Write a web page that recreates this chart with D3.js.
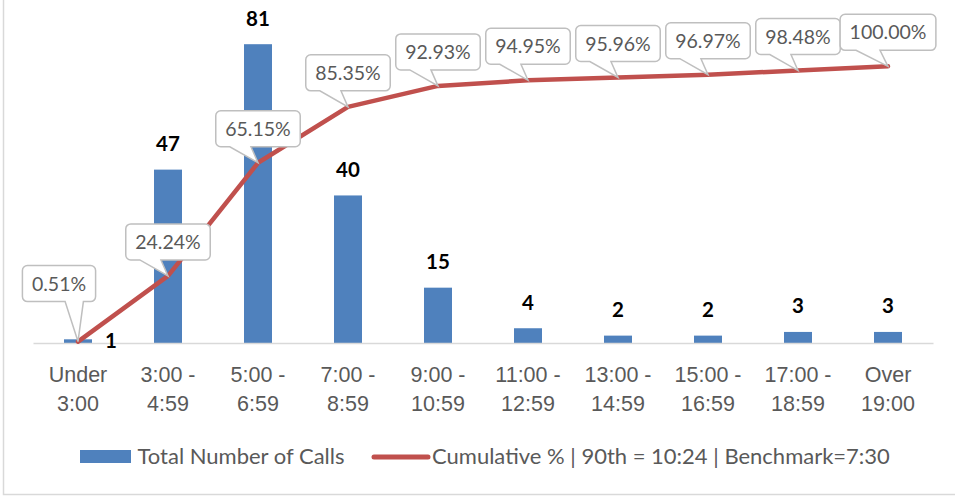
<!DOCTYPE html>
<html>
<head>
<meta charset="utf-8">
<script src="https://cdn.jsdelivr.net/npm/d3@7"></script>
<style>
  html, body { margin: 0; padding: 0; background: #fff; }
  svg { display: block; font-family: Lato, "Open Sans", sans-serif; }
</style>
</head>
<body>
<svg id="chart" width="955" height="497"></svg>
<script>
// values
const categories = ['Under 3:00', '3:00 - 4:59', '5:00 - 6:59', '7:00 - 8:59', '9:00 - 10:59',
  '11:00 - 12:59', '13:00 - 14:59', '15:00 - 16:59', '17:00 - 18:59', 'Over 19:00'];
const tickLines = [['Under', '3:00'], ['3:00 -', '4:59'], ['5:00 -', '6:59'], ['7:00 -', '8:59'],
  ['9:00 -', '10:59'], ['11:00 -', '12:59'], ['13:00 -', '14:59'], ['15:00 -', '16:59'],
  ['17:00 -', '18:59'], ['Over', '19:00']];
const calls = [1, 47, 81, 40, 15, 4, 2, 2, 3, 3];
const cumulative = [0.0051, 0.2424, 0.6515, 0.8535, 0.9293, 0.9495, 0.9596, 0.9697, 0.9848, 1.0];
const seriesNames = ['Total Number of Calls', 'Cumulative % | 90th = 10:24 | Benchmark=7:30'];

const barColor = '#4f81bd';
const lineColor = '#c0504d';
const textGray = '#595959';

const svg = d3.select('#chart');

// chart frame
svg.append('rect')
  .attr('x', 3.5).attr('y', -10)
  .attr('width', 970).attr('height', 504.5)
  .attr('fill', 'none').attr('stroke', '#d9d9d9').attr('stroke-width', 1.5);

let x = d3.scaleBand().domain(categories).range([33, 933])
  .paddingInner(0.689).paddingOuter(0.3445);
let y = d3.scaleLinear().domain([0, 90]).range([343, 11]);
let y2 = d3.scaleLinear().domain([0, 1.2]).range([343, 11]);
let cx = c => x(c) + x.bandwidth() / 2;

// bars
svg.append('g').selectAll('rect')
  .data(calls)
  .join('rect')
  .attr('x', (d, i) => x(categories[i]))
  .attr('y', d => y(d))
  .attr('width', x.bandwidth())
  .attr('height', d => y(0) - y(d))
  .attr('fill', barColor);

// category axis
let xAxis = svg.append('g')
  .attr('transform', `translate(0,${y(0)})`)
  .call(d3.axisBottom(x).tickSize(0).tickFormat(''));
xAxis.select('.domain').attr('stroke', '#d9d9d9').attr('stroke-width', 1.5);
xAxis.selectAll('.tick').each(function (c, i) {
  let t = d3.select(this).append('text')
    .attr('fill', textGray)
    .attr('font-size', 21.5)
    .attr('text-anchor', 'middle');
  tickLines[i].forEach((s, k) => {
    t.append('tspan').attr('x', 0).attr('y', 38.5 + k * 29).text(s);
  });
});

// cumulative line
let line = d3.line()
  .x((d, i) => cx(categories[i]))
  .y(d => y2(d));
svg.append('path')
  .datum(cumulative)
  .attr('d', line)
  .attr('fill', 'none')
  .attr('stroke', lineColor)
  .attr('stroke-width', 4.5)
  .attr('stroke-linejoin', 'round')
  .attr('stroke-linecap', 'round');

// callout labels for the percentages
function calloutPath(l, t, w, h, tipX, tipY) {
  let r = 5;
  let b = t + h;
  let right = l + w;
  let mid = l + w / 2;
  let base = tipX > mid + 0.5 ? [l + w * 7 / 12, l + w * 10 / 12] : [l + w * 2 / 12, l + w * 5 / 12];
  return `M${l + r},${t} H${right - r} A${r},${r} 0 0 1 ${right},${t + r} V${b - r}` +
    ` A${r},${r} 0 0 1 ${right - r},${b} H${base[1]} L${tipX},${tipY} L${base[0]},${b}` +
    ` H${l + r} A${r},${r} 0 0 1 ${l},${b - r} V${t + r} A${r},${r} 0 0 1 ${l + r},${t} Z`;
}

let callouts = svg.append('g');
cumulative.forEach((v, i) => {
  let px = cx(categories[i]);
  let py = y2(v);
  let g = callouts.append('g');
  let path = g.append('path')
    .attr('fill', '#fff')
    .attr('stroke', '#bfbfbf')
    .attr('stroke-width', 1.5);
  let label = g.append('text')
    .attr('fill', textGray)
    .attr('font-size', 19.5)
    .attr('text-anchor', 'middle')
    .text(d3.format('.2%')(v));
  let w = label.node().getComputedTextLength() + 19;
  let h = 36;
  // the first label was dragged up and to the left in the original
  let shiftX = i === 0 ? -19 : 0;
  let gap = i === 0 ? 40 : 16;
  let left = px - w / 2 + shiftX;
  let top = py - gap - h;
  path.attr('d', calloutPath(left, top, w, h, px, py));
  label.attr('x', left + w / 2).attr('y', top + h / 2 + 7);
});

// bar value labels
svg.append('g').selectAll('text')
  .data(calls)
  .join('text')
  .attr('x', (d, i) => i === 0 ? x(categories[i]) + x.bandwidth() + 13 : cx(categories[i]))
  .attr('y', (d, i) => i === 0 ? y(0) + 5 : y(d) - 18.5)
  .attr('text-anchor', (d, i) => i === 0 ? 'start' : 'middle')
  .attr('font-size', 20.5)
  .attr('font-weight', 'bold')
  .attr('fill', '#000')
  .text(d => d);

// legend
let legend = svg.append('g');
legend.append('rect')
  .attr('x', 80).attr('y', 450).attr('width', 51).attr('height', 13)
  .attr('fill', barColor);
legend.append('text')
  .attr('x', 137.5).attr('y', 464)
  .attr('fill', textGray).attr('font-size', 22)
  .text(seriesNames[0]);
legend.append('line')
  .attr('x1', 374).attr('x2', 428).attr('y1', 457).attr('y2', 457)
  .attr('stroke', lineColor).attr('stroke-width', 5).attr('stroke-linecap', 'round');
legend.append('text')
  .attr('x', 432).attr('y', 464)
  .attr('fill', textGray).attr('font-size', 22)
  .text(seriesNames[1]);
</script>
</body>
</html>
